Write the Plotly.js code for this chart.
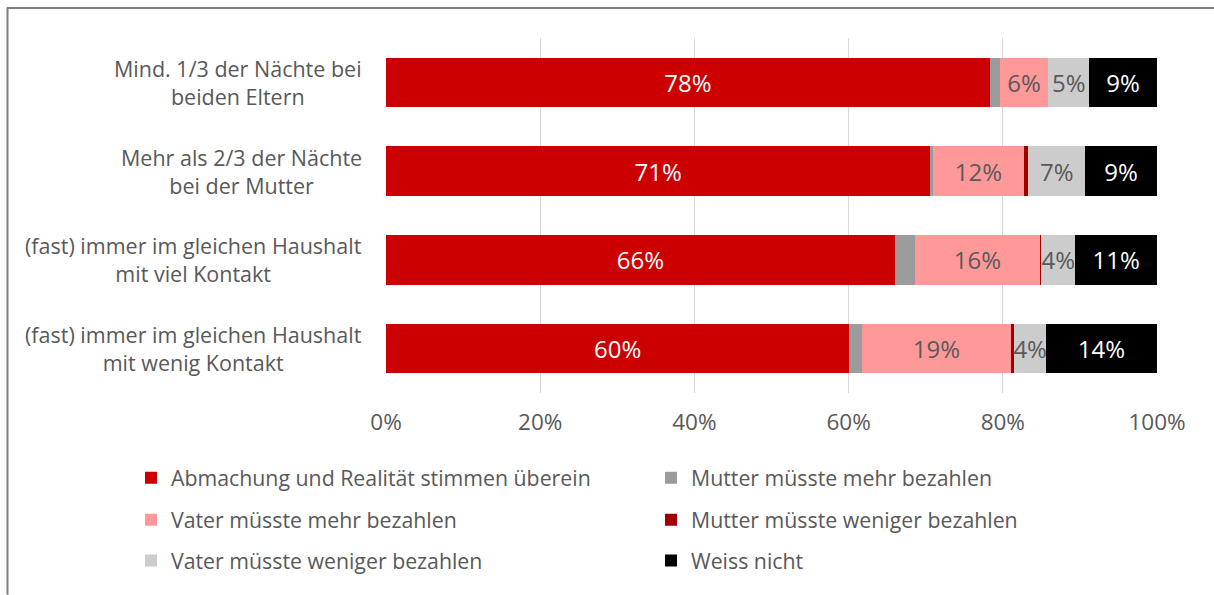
<!DOCTYPE html>
<html>
<head>
<meta charset="utf-8">
<script src="https://cdn.plot.ly/plotly-3.0.1.min.js"></script>
<style>html,body{margin:0;padding:0;background:#fff;}#chart{width:1214px;height:595px;}</style>
</head>
<body>
<div id="chart"></div>
<script>
var categories = [
  "Mind. 1/3 der Nächte bei<br>beiden Eltern",
  "Mehr als 2/3 der Nächte<br>bei der Mutter",
  "(fast) immer im gleichen Haushalt<br>mit viel Kontakt",
  "(fast) immer im gleichen Haushalt<br>mit wenig Kontakt"
];
var seriesNames = [
  "Abmachung und Realität stimmen überein",
  "Mutter müsste mehr bezahlen",
  "Vater müsste mehr bezahlen",
  "Mutter müsste weniger bezahlen",
  "Vater müsste weniger bezahlen",
  "Weiss nicht"
];
var abmachung     = [78.3, 70.6, 66.0, 60.1];
var mutterMehr    = [1.3, 0.4, 2.6, 1.7];
var vaterMehr     = [6.3, 11.7, 16.2, 19.2];
var mutterWeniger = [0.0, 0.6, 0.2, 0.5];
var vaterWeniger  = [5.3, 7.4, 4.4, 4.1];
var weissNicht    = [8.8, 9.3, 10.6, 14.4];
var xTicks = [0, 20, 40, 60, 80, 100];

var FONT = "Open Sans, Noto Sans, sans-serif";
var GREY = "#595959";
var colors = ["#CC0000", "#9B9B9B", "#FF9999", "#A00000", "#CCCCCC", "#000000"];
var values = [abmachung, mutterMehr, vaterMehr, mutterWeniger, vaterWeniger, weissNicht];
var showLabel = [true, false, true, false, true, true];
var labelColor = ["#FFFFFF", GREY, GREY, GREY, GREY, "#FFFFFF"];
var legendIds = ["legend", "legend", "legend2", "legend2", "legend3", "legend3"];

var traces = values.map(function (v, i) {
  var t = {
    type: "bar",
    orientation: "h",
    name: seriesNames[i],
    x: v,
    y: categories,
    marker: {color: colors[i], line: {width: 0}},
    legend: legendIds[i],
    hoverinfo: "x+name"
  };
  if (showLabel[i]) {
    t.texttemplate = "%{x:.0f}%";
    t.textposition = "inside";
    t.insidetextanchor = "middle";
    t.textangle = 0;
    t.constraintext = "none";
    t.textfont = {family: FONT, size: 24, color: labelColor[i]};
  } else {
    t.textposition = "none";
  }
  return t;
});

// plot area: x 386..1157, y 37.5..393
var L = 386, R = 1157, T = 37.5, B = 393, W = 1214, H = 595;
function px(x) { return (x - L) / (R - L); }
function py(y) { return (B - y) / (B - T); }

var annotations = categories.map(function (c) {
  return {
    xref: "paper", yref: "y",
    x: px(364), y: c,
    xanchor: "right", yanchor: "middle", align: "center",
    text: c, showarrow: false,
    font: {family: FONT, size: 21.5, color: GREY}
  };
});

function legendAt(yPix) {
  return {
    orientation: "h",
    x: px(131), xanchor: "left",
    y: py(yPix), yanchor: "middle",
    entrywidth: 475, entrywidthmode: "pixels",
    font: {family: FONT, size: 21.3, color: GREY},
    bgcolor: "rgba(0,0,0,0)",
    borderwidth: 0,
    traceorder: "normal"
  };
}

var layout = {
  width: W, height: H,
  margin: {l: L, r: W - R, t: T, b: H - B, pad: 0},
  paper_bgcolor: "#FFFFFF",
  plot_bgcolor: "#FFFFFF",
  barmode: "stack",
  bargap: 0.44,
  showlegend: true,
  font: {family: FONT, color: GREY},
  xaxis: {
    range: [0, 100],
    tickvals: xTicks,
    ticktext: xTicks.map(function (t) { return t + "%"; }),
    showgrid: true, gridcolor: "#D9D9D9", gridwidth: 1,
    zeroline: false, showline: false, ticks: "",
    ticklabelstandoff: 13,
    tickfont: {family: FONT, size: 22.5, color: GREY},
    fixedrange: true
  },
  yaxis: {
    autorange: "reversed",
    showticklabels: false, showgrid: false, zeroline: false, showline: false, ticks: "",
    fixedrange: true
  },
  legend: legendAt(478),
  legend2: legendAt(520),
  legend3: legendAt(561),
  annotations: annotations,
  shapes: [
    {type: "line", xref: "paper", yref: "paper", x0: px(7), x1: px(1214), y0: py(7.5), y1: py(7.5),
     line: {color: "#7F7F7F", width: 2}},
    {type: "line", xref: "paper", yref: "paper", x0: px(7.5), x1: px(7.5), y0: py(7), y1: py(595),
     line: {color: "#7F7F7F", width: 2}}
  ]
};

Plotly.newPlot("chart", traces, layout, {displayModeBar: false, staticPlot: true});
</script>
</body>
</html>
